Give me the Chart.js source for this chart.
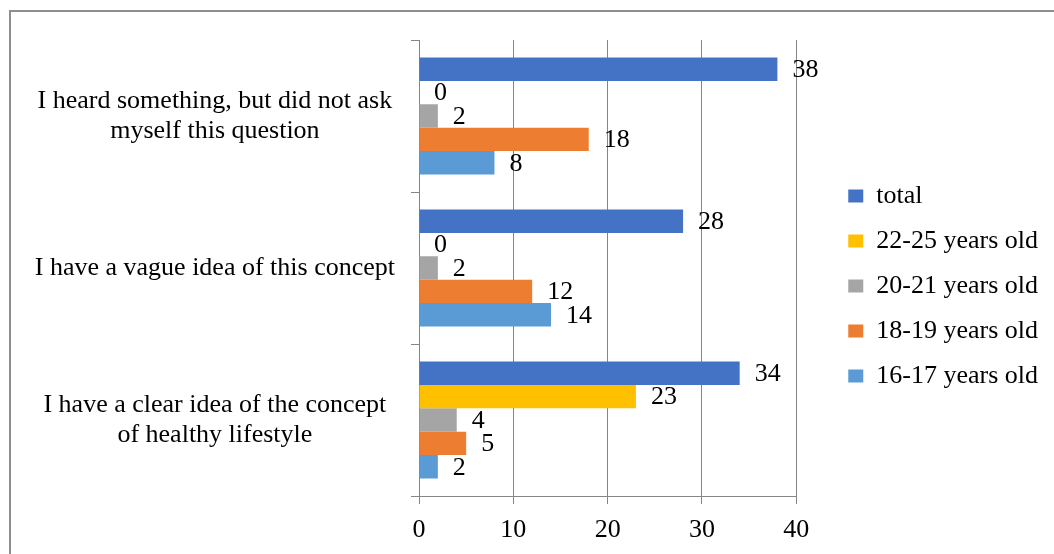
<!DOCTYPE html>
<html>
<head>
<meta charset="utf-8">
<script src="https://cdn.jsdelivr.net/npm/chart.js@4/dist/chart.umd.min.js"></script>
<style>
  html, body { margin: 0; padding: 0; background: #fff; overflow: hidden; }
  #wrap { position: relative; width: 1054px; height: 554px; }
  #frame { position: absolute; left: 9px; top: 10px; width: 1100px; height: 600px;
           border-left: 2px solid #8e8e8e; border-top: 2px solid #8e8e8e; box-sizing: border-box; }
  #c { position: absolute; left: 0; top: 0; }
</style>
</head>
<body>
<div id="wrap">
  <div id="frame"></div>
  <canvas id="c" width="1054" height="554"></canvas>
</div>
<script>
const categories = [
  ["I heard something, but did not ask", "myself this question"],
  "I have a vague idea of this concept",
  ["I have a clear idea of the concept", "of healthy lifestyle"]
];
const seriesNames = ["total", "22-25 years old", "20-21 years old", "18-19 years old", "16-17 years old"];
const total   = [38, 28, 34];
const age2225 = [0, 0, 23];
const age2021 = [2, 2, 4];
const age1819 = [18, 12, 5];
const age1617 = [8, 14, 2];
const xTicks = [0, 10, 20, 30, 40];

const colors = ["#4472C4", "#FFC000", "#A5A5A5", "#ED7D31", "#5B9BD5"];
const seriesValues = [total, age2225, age2021, age1819, age1617];

const FONT = '"Liberation Serif", "Times New Roman", serif';
Chart.defaults.font.family = FONT;
Chart.defaults.font.size = 26;
Chart.defaults.font.lineHeight = 1.15;
Chart.defaults.color = '#000';

const gridColor = '#868686';

const valueLabels = {
  id: 'valueLabels',
  afterDatasetsDraw(chart) {
    const ctx = chart.ctx;
    ctx.save();
    ctx.font = '26px ' + FONT;
    ctx.fillStyle = '#000';
    ctx.textAlign = 'left';
    ctx.textBaseline = 'middle';
    chart.data.datasets.forEach((ds, i) => {
      const meta = chart.getDatasetMeta(i);
      meta.data.forEach((bar, j) => {
        ctx.fillText(String(ds.data[j]), bar.x + 15, bar.y + 1);
      });
    });
    ctx.restore();
  }
};

new Chart(document.getElementById('c'), {
  type: 'bar',
  data: {
    labels: categories,
    datasets: seriesNames.map((name, i) => ({
      label: name,
      data: seriesValues[i],
      backgroundColor: colors[i],
      borderWidth: 0,
      categoryPercentage: 0.77,
      barPercentage: 1.0
    }))
  },
  options: {
    indexAxis: 'y',
    responsive: false,
    animation: false,
    layout: { padding: { top: 27, bottom: 9, left: 0, right: 6 } },
    plugins: {
      tooltip: { enabled: false },
      legend: {
        position: 'right',
        align: 'center',
        labels: {
          boxWidth: 15,
          boxHeight: 13,
          padding: 19,
          color: '#000',
          font: { size: 26, family: FONT }
        }
      }
    },
    scales: {
      x: {
        min: 0, max: 40,
        afterBuildTicks(scale) { scale.ticks = xTicks.map(v => ({ value: v })); },
        afterFit(scale) { scale.height = 49; scale.paddingLeft = 0; scale.paddingRight = 0; },
        grid: { color: gridColor, lineWidth: 1, drawTicks: true, tickLength: 8, tickColor: gridColor },
        border: { display: true, color: gridColor, width: 1 },
        ticks: { padding: 11, color: '#000', font: { size: 26, family: FONT } }
      },
      y: {
        afterFit(scale) { scale.width = 419; scale.paddingTop = 0; scale.paddingBottom = 0; },
        grid: { drawOnChartArea: false, drawTicks: true, tickLength: 8, color: gridColor, tickColor: gridColor },
        border: { display: true, color: gridColor, width: 1 },
        ticks: { padding: 16, crossAlign: 'center', color: '#000', font: { size: 26, family: FONT, lineHeight: 1.15 } }
      },
      gap: {
        type: 'linear',
        position: 'right',
        display: false,
        afterFit(scale) { scale.width = 33; }
      },
      gapTop: {
        type: 'linear',
        position: 'top',
        display: false,
        afterFit(scale) { scale.height = 13; }
      }
    }
  },
  plugins: [valueLabels]
});
</script>
</body>
</html>
